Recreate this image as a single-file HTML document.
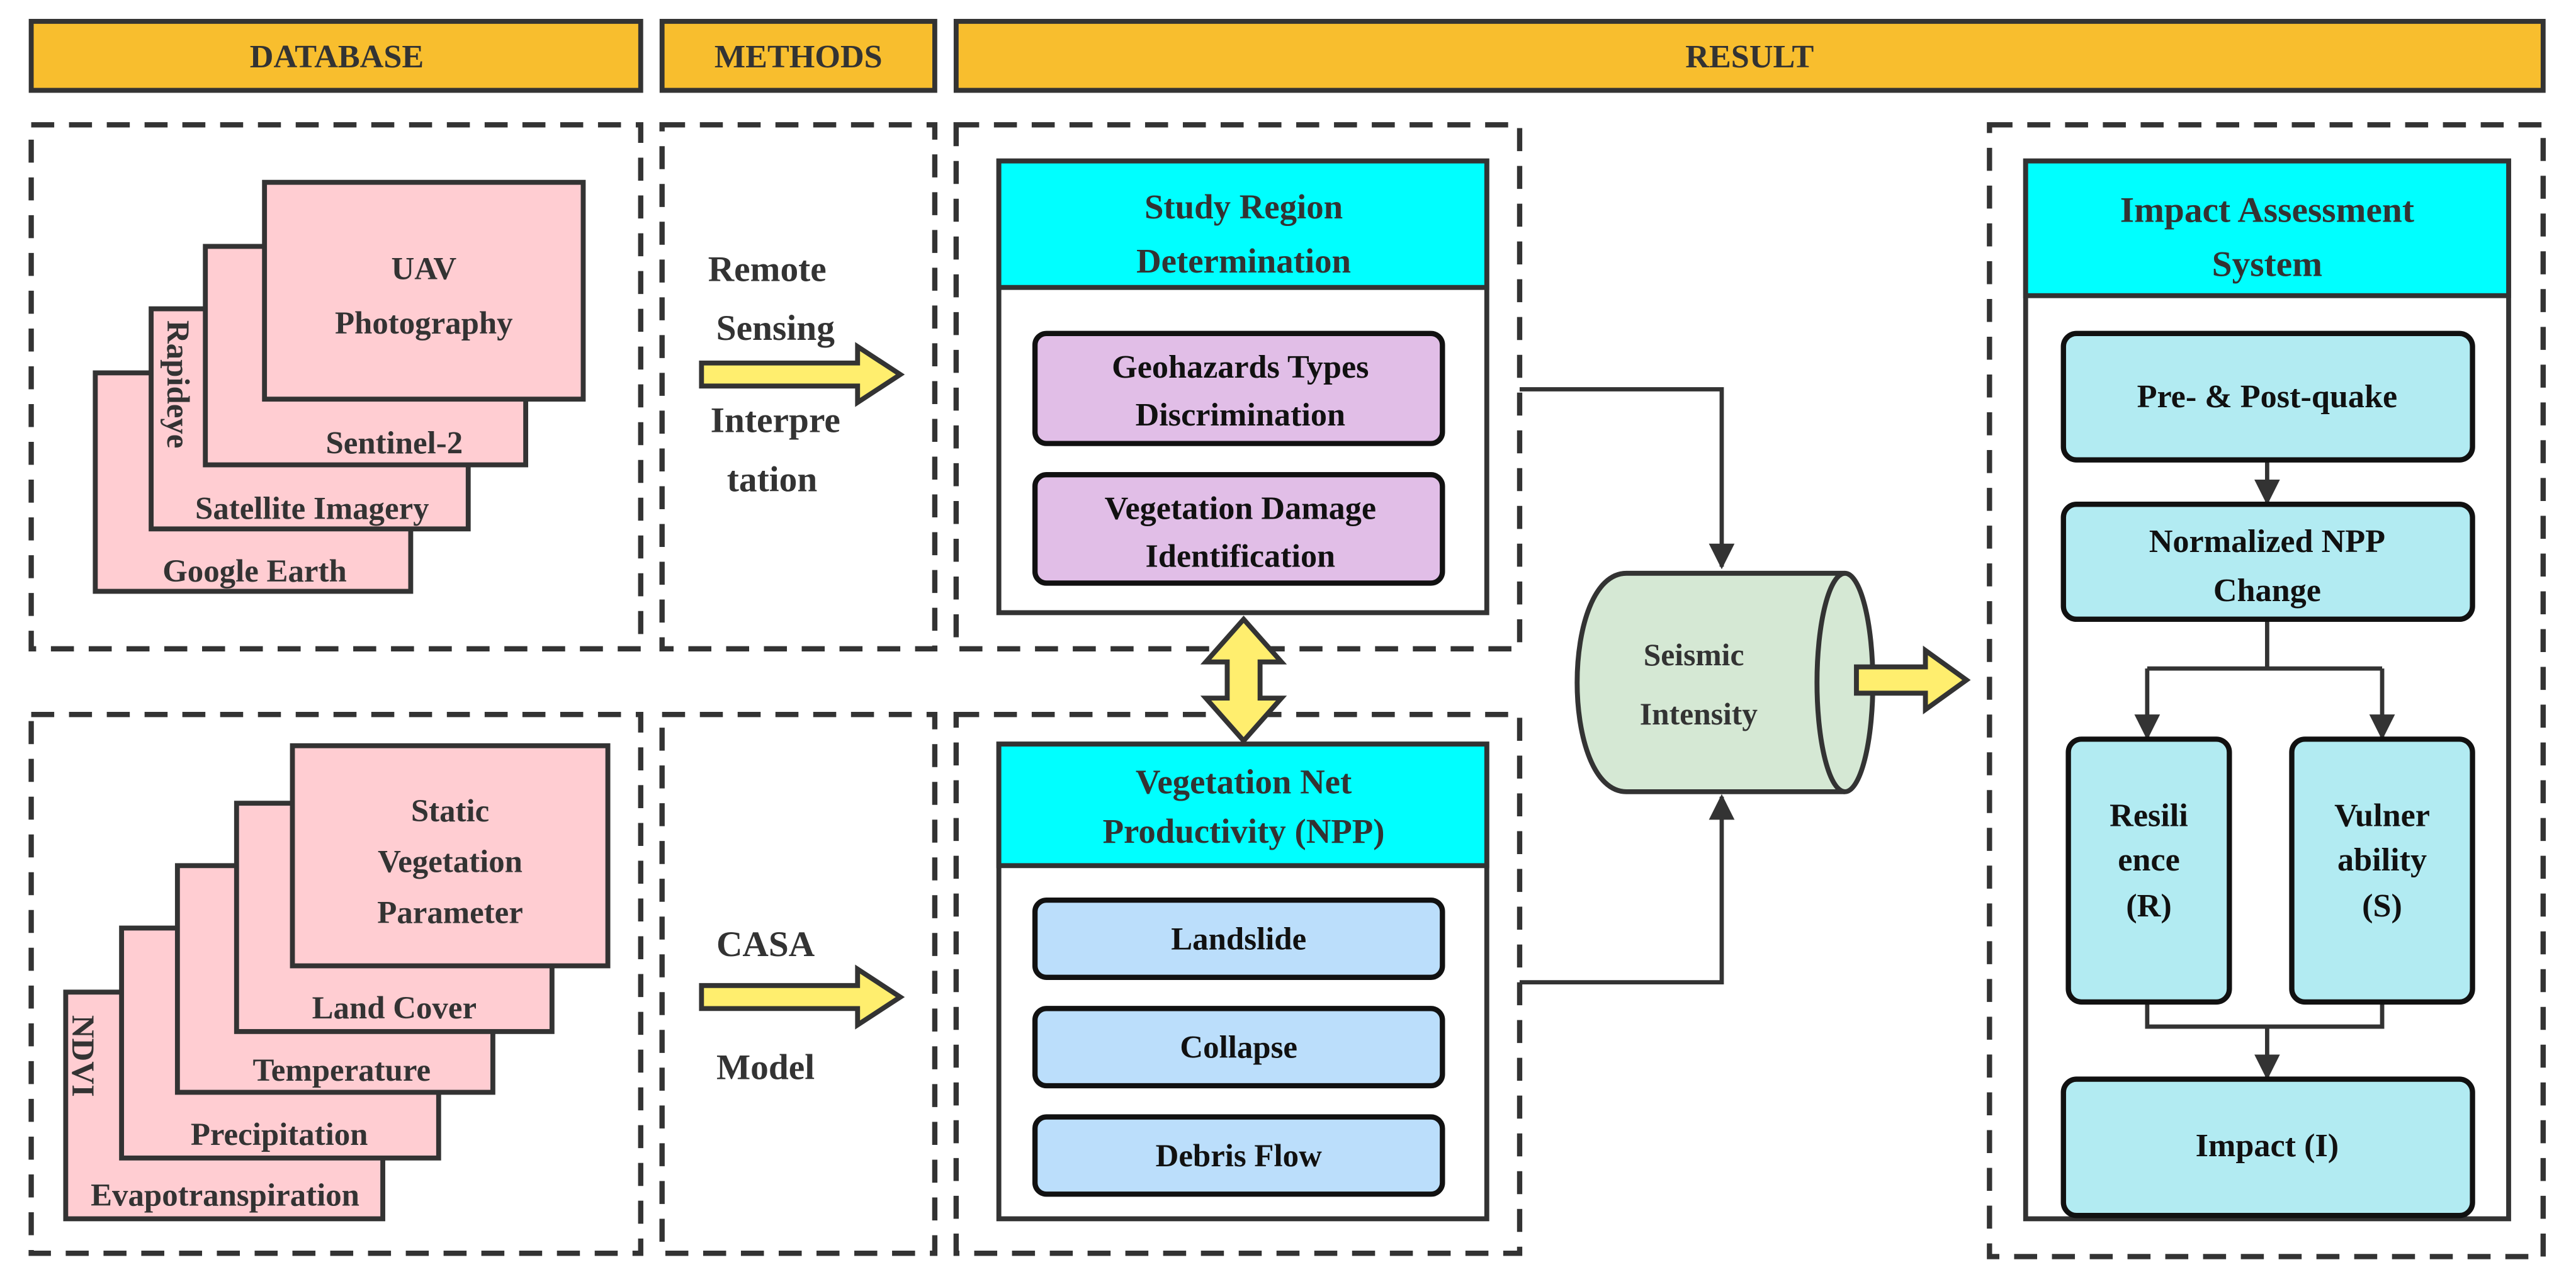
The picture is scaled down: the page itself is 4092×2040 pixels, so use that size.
<!DOCTYPE html>
<html><head><meta charset="utf-8"><style>
html,body{margin:0;padding:0;background:#fff;}
svg{display:block;}
text{font-family:"Liberation Serif","DejaVu Serif",serif;font-weight:bold;fill:#333;}
</style></head><body>
<svg width="4092" height="2040" viewBox="0 0 1568 781.7" xmlns="http://www.w3.org/2000/svg" font-family="Liberation Serif, DejaVu Serif, serif" font-weight="bold">
<defs>
<marker id="ah" viewBox="0 0 10 10" refX="9" refY="5" markerWidth="6" markerHeight="6.5" orient="auto"><path d="M0,0 L10,5 L0,10 z" fill="#333"/></marker>
</defs>
<g fill="#F8BE2E" stroke="#333" stroke-width="3">
<rect x="19" y="13" width="371" height="42"/>
<rect x="403" y="13" width="166" height="42"/>
<rect x="582" y="13" width="966" height="42"/>
</g>
<g font-size="20" text-anchor="middle">
<text x="205" y="41">DATABASE</text>
<text x="486" y="41">METHODS</text>
<text x="1065" y="41">RESULT</text>
</g>
<g fill="none" stroke="#333" stroke-width="3.2" stroke-dasharray="14,9">
<rect x="19" y="76" width="371" height="319"/>
<rect x="403" y="76" width="166" height="319"/>
<rect x="582" y="76" width="343" height="319"/>
<rect x="19" y="435" width="371" height="328"/>
<rect x="403" y="435" width="166" height="328"/>
<rect x="582" y="435" width="343" height="328"/>
<rect x="1211" y="76" width="337" height="689"/>
</g>
<g fill="#FFCDD2" stroke="#333" stroke-width="3">
<rect x="58" y="227" width="192" height="133"/>
<rect x="92" y="188" width="193" height="134"/>
<rect x="125" y="150" width="195" height="133"/>
<rect x="161" y="111" width="194" height="132"/>
</g>
<g font-size="19.5" text-anchor="middle">
<text x="155" y="354">Google Earth</text>
<text x="190" y="316">Satellite Imagery</text>
<text x="240" y="276">Sentinel-2</text>
<text x="258" y="170">UAV</text>
<text x="258" y="203">Photography</text>
<text transform="translate(102,195) rotate(90)" text-anchor="start">Rapideye</text>
</g>
<g fill="#FFCDD2" stroke="#333" stroke-width="3">
<rect x="40" y="604" width="193" height="138"/>
<rect x="74" y="565" width="193" height="140"/>
<rect x="108" y="527" width="192" height="138"/>
<rect x="144" y="489" width="192" height="139"/>
<rect x="178" y="454" width="192" height="134"/>
</g>
<g font-size="19.5" text-anchor="middle">
<text x="137" y="734">Evapotranspiration</text>
<text x="170" y="697">Precipitation</text>
<text x="208" y="658">Temperature</text>
<text x="240" y="620">Land Cover</text>
<text x="274" y="500">Static</text>
<text x="274" y="531">Vegetation</text>
<text x="274" y="562">Parameter</text>
<text transform="translate(44,618) rotate(90)" text-anchor="start">NDVI</text>
</g>
<g font-size="22" text-anchor="middle">
<text x="467" y="171">Remote</text>
<text x="472" y="207">Sensing</text>
<text x="472" y="263">Interpre</text>
<text x="470" y="299">tation</text>
<text x="466" y="582">CASA</text>
<text x="466" y="657">Model</text>
</g>
<g fill="#FFEE6E" stroke="#333" stroke-width="3">
<path d="M427,221 L522,221 L522,211 L548,228 L522,245 L522,235 L427,235 z"/>
<path d="M427,600 L522,600 L522,590 L548,607 L522,624 L522,614 L427,614 z"/>
<path d="M757,377 L780,403 L767,403 L767,425 L780,425 L757,451 L734,425 L747,425 L747,403 L734,403 z"/>
</g>
<rect x="608" y="98" width="297" height="275" fill="#fff" stroke="#333" stroke-width="3"/>
<rect x="608" y="98" width="297" height="77" fill="#00FFFF" stroke="#333" stroke-width="3"/>
<g font-size="21" text-anchor="middle">
<text x="757" y="133">Study Region</text>
<text x="757" y="166">Determination</text>
</g>
<g fill="#E1BEE7" stroke="#111" stroke-width="3.2">
<rect x="630" y="203" width="248" height="67" rx="7"/>
<rect x="630" y="289" width="248" height="66" rx="7"/>
</g>
<g font-size="20" text-anchor="middle">
<text x="755" y="230" style="fill:#111">Geohazards Types</text>
<text x="755" y="259" style="fill:#111">Discrimination</text>
<text x="755" y="316" style="fill:#111">Vegetation Damage</text>
<text x="755" y="345" style="fill:#111">Identification</text>
</g>
<rect x="608" y="453" width="297" height="289" fill="#fff" stroke="#333" stroke-width="3"/>
<rect x="608" y="453" width="297" height="74" fill="#00FFFF" stroke="#333" stroke-width="3"/>
<g font-size="21" text-anchor="middle">
<text x="757" y="483">Vegetation Net</text>
<text x="757" y="513">Productivity (NPP)</text>
</g>
<g fill="#BBDEFB" stroke="#111" stroke-width="3.2">
<rect x="630" y="548" width="248" height="47" rx="7"/>
<rect x="630" y="614" width="248" height="47" rx="7"/>
<rect x="630" y="680" width="248" height="47" rx="7"/>
</g>
<g font-size="19.5" text-anchor="middle">
<text x="754" y="578" style="fill:#111">Landslide</text>
<text x="754" y="644" style="fill:#111">Collapse</text>
<text x="754" y="710" style="fill:#111">Debris Flow</text>
</g>
<g fill="none" stroke="#333" stroke-width="2.6">
<path d="M925,237 L1048,237 L1048,345" marker-end="url(#ah)"/>
<path d="M925,598 L1048,598 L1048,485" marker-end="url(#ah)"/>
</g>
<path d="M1123,349 L990,349 C950,349 950,482 990,482 L1123,482" fill="#D5E8D4" stroke="#333" stroke-width="3"/>
<ellipse cx="1123" cy="415.5" rx="17" ry="66.5" fill="#D5E8D4" stroke="#333" stroke-width="3"/>
<g font-size="19" text-anchor="middle">
<text x="1031" y="405">Seismic</text>
<text x="1034" y="441">Intensity</text>
</g>
<path d="M1130,406 L1172,406 L1172,396 L1197,414 L1172,432 L1172,422 L1130,422 z" fill="#FFEE6E" stroke="#333" stroke-width="3"/>
<rect x="1233" y="98" width="294" height="644" fill="#fff" stroke="#333" stroke-width="3"/>
<rect x="1233" y="98" width="294" height="82" fill="#00FFFF" stroke="#333" stroke-width="3"/>
<g font-size="22" text-anchor="middle">
<text x="1380" y="135">Impact Assessment</text>
<text x="1380" y="168">System</text>
</g>
<g fill="none" stroke="#333" stroke-width="2.6">
<path d="M1380,280 L1380,306" marker-end="url(#ah)"/>
<path d="M1380,377 L1380,407 M1307,407 L1450,407"/>
<path d="M1307,407 L1307,449" marker-end="url(#ah)"/>
<path d="M1450,407 L1450,449" marker-end="url(#ah)"/>
<path d="M1307,610 L1307,625 L1450,625 L1450,610"/>
<path d="M1380,625 L1380,656" marker-end="url(#ah)"/>
</g>
<g fill="#B2EBF2" stroke="#111" stroke-width="3.2">
<rect x="1256" y="203" width="249" height="77" rx="8"/>
<rect x="1256" y="307" width="249" height="70" rx="8"/>
<rect x="1259" y="450" width="98" height="160" rx="8"/>
<rect x="1395" y="450" width="110" height="160" rx="8"/>
<rect x="1256" y="657" width="249" height="83" rx="8"/>
</g>
<g font-size="20" text-anchor="middle">
<text x="1380" y="248" style="fill:#111">Pre- &amp; Post-quake</text>
<text x="1380" y="336" style="fill:#111">Normalized NPP</text>
<text x="1380" y="366" style="fill:#111">Change</text>
<text x="1308" y="503" style="fill:#111">Resili</text>
<text x="1308" y="530" style="fill:#111">ence</text>
<text x="1308" y="558" style="fill:#111">(R)</text>
<text x="1450" y="503" style="fill:#111">Vulner</text>
<text x="1450" y="530" style="fill:#111">ability</text>
<text x="1450" y="558" style="fill:#111">(S)</text>
<text x="1380" y="704" style="fill:#111">Impact (I)</text>
</g>
</svg>
</body></html>
